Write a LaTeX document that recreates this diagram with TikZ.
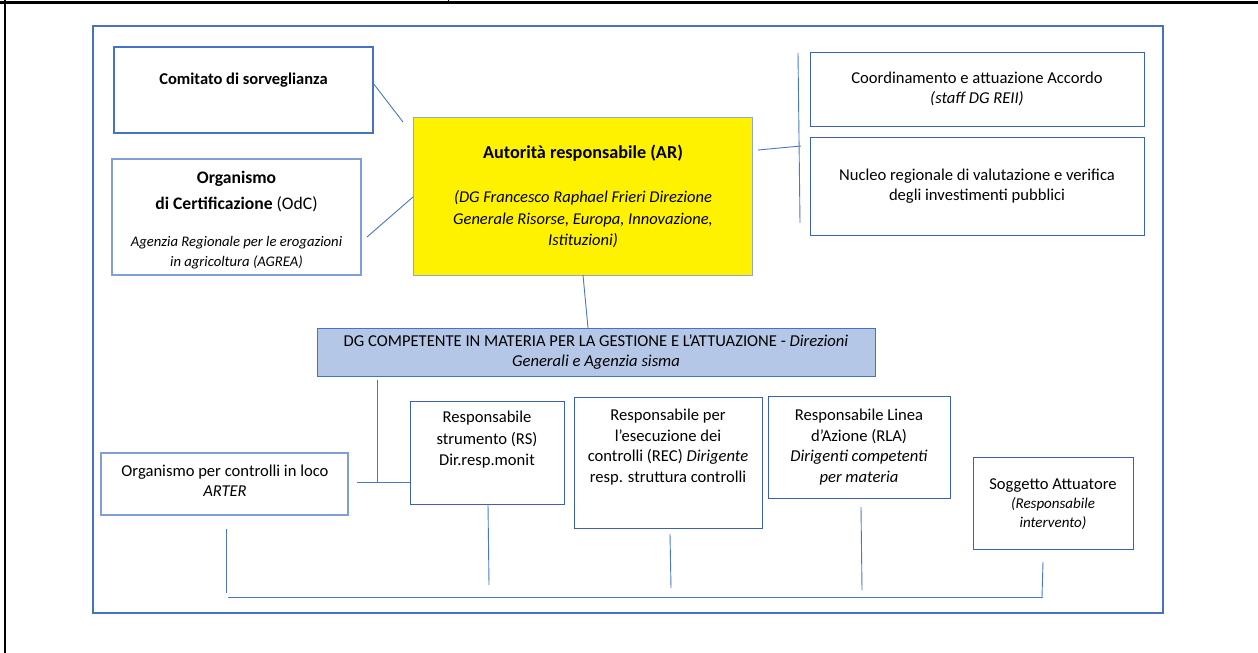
\documentclass[tikz,border=0pt]{standalone}
\usepackage{fontspec}
\setmainfont{Carlito}
\definecolor{frameblue}{HTML}{4472C4}
\definecolor{darkblue}{HTML}{3A62B0}
\definecolor{lightblue}{HTML}{7F9FD6}
\definecolor{arborder}{HTML}{8EA9C9}
\definecolor{dgfill}{HTML}{B4C7E7}
\definecolor{lineblue}{HTML}{4A78C8}
\begin{document}
\begin{tikzpicture}[x=1pt,y=-1pt,
  every node/.style={font=\fontsize{16.6}{20.5}\selectfont},
  box/.style={draw=darkblue,line width=1pt,fill=white,inner sep=0pt,align=center},
  txt/.style={inner sep=0pt,align=center},
  conn/.style={draw=lineblue,line width=0.9pt}]
\useasboundingbox (0,0) rectangle (1258,653);
\fill[white] (0,0) rectangle (1258,653);
% table lines
\draw[black,line width=3pt] (0,2) -- (1258,2);
\draw[black,line width=2pt] (5,0) -- (5,653);
\draw[black,line width=1pt] (448,0) -- (448,4);
% outer frame
\node[draw=frameblue,line width=2pt,inner sep=0pt,minimum width=1070,minimum height=587] (frame) at (628,319.5) {};
% top-left boxes
\node[box,draw=frameblue,line width=2pt,minimum width=259,minimum height=86] (com) at (243.5,90) {};
\node[txt,font=\fontsize{16.5}{20.5}\selectfont\bfseries] (comt) at (243.5,80) {Comitato di sorveglianza};
\node[box,draw=lightblue,line width=1.2pt,minimum width=249,minimum height=116] (odc) at (236.5,217) {};
\node[txt,font=\fontsize{17.6}{26.5}\selectfont] (odct) at (236.5,191.5) {\textbf{Organismo}\\\textbf{di Certificazione} (OdC)};
\node[txt,font=\fontsize{14.67}{19.5}\selectfont\itshape] (odci) at (236.5,252.5) {Agenzia Regionale per le erogazioni\\in agricoltura (AGREA)};
% AR
\node[box,draw=arborder,fill=yellow,line width=1pt,minimum width=339,minimum height=158] (ar) at (582.5,196) {};
\node[txt,font=\fontsize{18.2}{20}\selectfont\bfseries] (art) at (583,153) {Autorità responsabile (AR)};
\node[txt,font=\fontsize{16.5}{21.5}\selectfont\itshape] (ari) at (583,219.5) {(DG Francesco Raphael Frieri Direzione\\Generale Risorse, Europa, Innovazione,\\Istituzioni)};
% right boxes
\node[box,minimum width=334,minimum height=74] (coord) at (977,89) {Coordinamento e attuazione Accordo\\\textit{(staff DG REII)}};
\node[box,minimum width=334,minimum height=98] (nuc) at (977,186) {Nucleo regionale di valutazione e verifica\\degli investimenti pubblici};
% DG
\node[box,draw=frameblue,fill=dgfill,minimum width=558,minimum height=48] (dg) at (596,352) {DG COMPETENTE IN MATERIA PER LA GESTIONE E L’ATTUAZIONE - \textit{Direzioni}\\\textit{Generali e Agenzia sisma}};
% lower boxes
\node[box,draw=lightblue,line width=1.2pt,minimum width=247,minimum height=62] (org) at (224.5,484) {};
\node[txt,font=\fontsize{16.6}{19.5}\selectfont] (orgt) at (225,480.5) {Organismo per controlli in loco\\\textit{ARTER}};
\node[box,minimum width=154,minimum height=103] (rs) at (487,452.5) {};
\node[txt,font=\fontsize{16.6}{21.5}\selectfont] (rst) at (487,440) {Responsabile\\strumento (RS)\\Dir.resp.monit};
\node[box,minimum width=188,minimum height=131] (rec) at (668,462.5) {};
\node[txt] (rect) at (668,447) {Responsabile per\\l’esecuzione dei\\controlli (REC) \textit{Dirigente}\\resp. struttura controlli};
\node[box,minimum width=182,minimum height=102] (rla) at (859,447) {Responsabile Linea\\d’Azione (RLA)\\\textit{Dirigenti competenti}\\\textit{per materia}};
\node[box,minimum width=160,minimum height=92] (sog) at (1053,503) {};
\node[txt,font=\fontsize{16.6}{19}\selectfont] (sogt) at (1053,504) {Soggetto Attuatore\\{\fontsize{15}{19}\selectfont\itshape (Responsabile}\\{\fontsize{15}{19}\selectfont\itshape intervento)}};
% connector end points
\coordinate (a1) at (373,83);   \coordinate (a2) at (403,122);
\coordinate (b1) at (367,237);  \coordinate (b2) at (413,197);
\coordinate (c1) at (758,150);  \coordinate (c2) at (801,146);
\coordinate (d1) at (798,53);   \coordinate (d2) at (800,223);
\coordinate (e1) at (583,275);  \coordinate (e2) at (588,328);
\coordinate (f1) at (377,380);  \coordinate (f2) at (377,482);
\coordinate (g1) at (357,482);  \coordinate (g2) at (410,482);
\coordinate (h1) at (226,529);  \coordinate (h2) at (226,593);
\coordinate (i1) at (228,597);  \coordinate (i2) at (1043,597);
\coordinate (j1) at (488,504);  \coordinate (j2) at (489,585);
\coordinate (k1) at (670,534);  \coordinate (k2) at (671,588);
\coordinate (l1) at (861,507);  \coordinate (l2) at (862,590);
\coordinate (m1) at (1043,562); \coordinate (m2) at (1042,597);
\foreach \p/\q in {a1/a2,b1/b2,c1/c2,d1/d2,e1/e2,f1/f2,g1/g2,h1/h2,i1/i2,j1/j2,k1/k2,l1/l2,m1/m2}
  \draw[conn] (\p) -- (\q);
\end{tikzpicture}
\end{document}
